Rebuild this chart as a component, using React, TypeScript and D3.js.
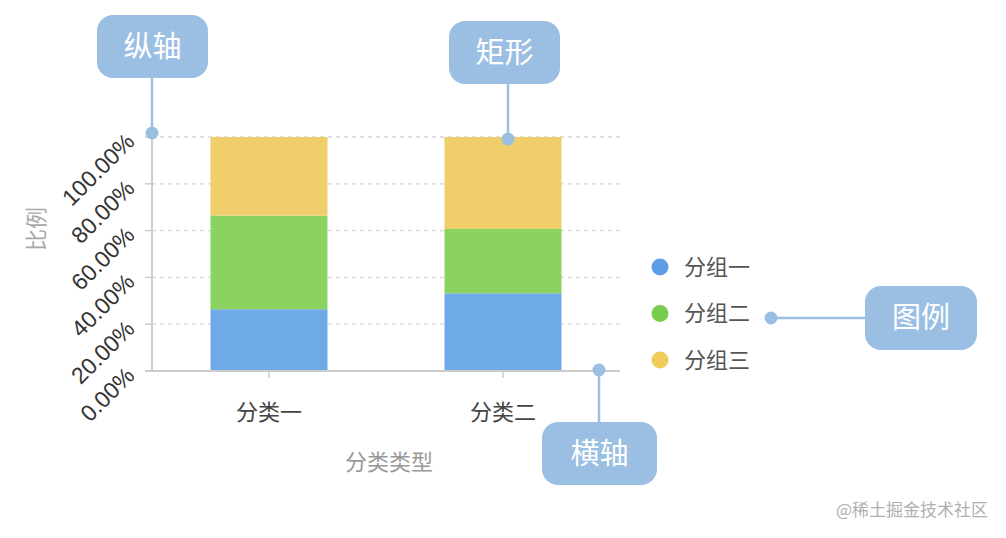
import { useMemo } from 'react';
import * as d3 from 'd3';

const WIDTH = 1006;
const HEIGHT = 538;
const MARGIN = { top: 137, right: 386, bottom: 167, left: 152 };

// 数据
const categories = ['分类一', '分类二'];
const groups = ['分组一', '分组二', '分组三'];
const group1 = [26.4, 33.2];
const group2 = [40.0, 27.5];
const group3 = [33.6, 39.3];
const yTicks = [0, 0.2, 0.4, 0.6, 0.8, 1];

const COLORS = ['#6eaae8', '#8bd35f', '#efce6b'];
const LEGEND_COLORS = ['#5e9ee6', '#79cc4d', '#f0cc5c'];
const NOTE_COLOR = '#9bbfe3';
const CJK = '"Noto Sans CJK SC", "Noto Sans", sans-serif';
const LATIN = '"Liberation Sans", Arial, sans-serif';

const Note = ({ x, y, w, h, text }: { x: number; y: number; w: number; h: number; text: string }) => (
  <g>
    <rect x={x} y={y} width={w} height={h} rx={16} fill={NOTE_COLOR} />
    <text x={x + w / 2} y={y + h / 2} dy="0.36em" textAnchor="middle" fill="#fff"
      style={{ fontSize: 29, fontFamily: CJK }}>{text}</text>
  </g>
);

export default function App() {
  const boundsWidth = WIDTH - MARGIN.left - MARGIN.right;
  const boundsHeight = HEIGHT - MARGIN.top - MARGIN.bottom;

  const stacked = useMemo(() => {
    const rows = categories.map((c, i) => {
      const total = group1[i] + group2[i] + group3[i];
      return {
        category: c,
        [groups[0]]: group1[i] / total,
        [groups[1]]: group2[i] / total,
        [groups[2]]: group3[i] / total,
      } as Record<string, any>;
    });
    return d3.stack<Record<string, any>>().keys(groups)(rows);
  }, []);

  const xScale = d3.scaleBand().domain(categories).range([0, boundsWidth]).paddingInner(0).paddingOuter(0);
  const barW = xScale.bandwidth() * 0.5;
  const yScale = d3.scaleLinear().domain([0, 1]).range([boundsHeight, 0]);
  const fmt = d3.format('.2%');

  const legendY = d3.scalePoint().domain(groups).range([267, 360]);

  return (
    <div style={{ position: 'absolute', left: 0, top: 0 }}>
      <svg width={WIDTH} height={HEIGHT} style={{ display: 'block', background: '#fff' }}>
        <g transform={`translate(${MARGIN.left},${MARGIN.top})`}>
          {/* 网格线 */}
          {yTicks.filter(t => t > 0).map(t => (
            <line key={t} x1={0} x2={boundsWidth} y1={yScale(t)} y2={yScale(t)}
              stroke="#d6d6d6" strokeWidth={1.3} strokeDasharray="4,4" />
          ))}
          {/* 矩形 */}
          {stacked.map((layer, li) => (
            <g key={layer.key} fill={COLORS[li]}>
              {layer.map((d, i) => (
                <rect key={i}
                  x={(xScale(categories[i]) ?? 0) + (xScale.bandwidth() - barW) / 2}
                  y={yScale(d[1])}
                  width={barW}
                  height={yScale(d[0]) - yScale(d[1])} />
              ))}
            </g>
          ))}
          {/* 纵轴 */}
          <line x1={0} x2={0} y1={0} y2={boundsHeight} stroke="#cccccc" strokeWidth={2} />
          {yTicks.map(t => (
            <g key={t} transform={`translate(0,${yScale(t)})`}>
              <line x1={-7} x2={0} stroke="#cccccc" strokeWidth={1.5} />
              <text transform="translate(-16,6) rotate(-45)" textAnchor="end" fill="#333"
                style={{ fontSize: 23, fontFamily: LATIN }}>{fmt(t)}</text>
            </g>
          ))}
          {/* 横轴 */}
          <line x1={-7} x2={boundsWidth} y1={boundsHeight} y2={boundsHeight} stroke="#cccccc" strokeWidth={2} />
          {categories.map(c => (
            <g key={c} transform={`translate(${(xScale(c) ?? 0) + xScale.bandwidth() / 2},${boundsHeight})`}>
              <line y1={0} y2={7} stroke="#cccccc" strokeWidth={1.5} />
              <text y={41} dy="0.36em" textAnchor="middle" fill="#444" style={{ fontSize: 22, fontFamily: CJK }}>{c}</text>
            </g>
          ))}
          <text x={boundsWidth / 2 + 3} y={boundsHeight + 91} dy="0.36em" textAnchor="middle" fill="#999"
            style={{ fontSize: 22, fontFamily: CJK }}>分类类型</text>
          <text transform={`translate(-116,${boundsHeight / 2 - 25}) rotate(-90)`} dy="0.36em" textAnchor="middle" fill="#aaa"
            style={{ fontSize: 22, fontFamily: CJK }}>比例</text>
        </g>

        {/* 图例 */}
        {groups.map((g, i) => (
          <g key={g} transform={`translate(660,${legendY(g)})`}>
            <circle r={8.5} fill={LEGEND_COLORS[i]} />
            <text x={24} dy="0.36em" fill="#555" style={{ fontSize: 22, fontFamily: CJK }}>{g}</text>
          </g>
        ))}

        {/* 标注 */}
        <g stroke={NOTE_COLOR} strokeWidth={2.5}>
          <line x1={152} x2={152} y1={70} y2={133} />
          <line x1={508} x2={508} y1={78} y2={139} />
          <line x1={771} x2={870} y1={318} y2={318} />
          <line x1={599} x2={599} y1={370} y2={428} />
        </g>
        <g fill={NOTE_COLOR}>
          <circle cx={152} cy={133} r={6.5} />
          <circle cx={508} cy={139} r={6.5} />
          <circle cx={771} cy={318} r={6.5} />
          <circle cx={599} cy={370} r={6.5} />
        </g>
        <Note x={97} y={15} w={111} h={63} text="纵轴" />
        <Note x={449} y={21} w={111} h={63} text="矩形" />
        <Note x={865} y={286} w={112} h={64} text="图例" />
        <Note x={542} y={422} w={115} h={63} text="横轴" />

        <text x={988} y={516} textAnchor="end" fill="#b0b0b0" style={{ fontSize: 17, fontFamily: CJK }}>@稀土掘金技术社区</text>
      </svg>
    </div>
  );
}
